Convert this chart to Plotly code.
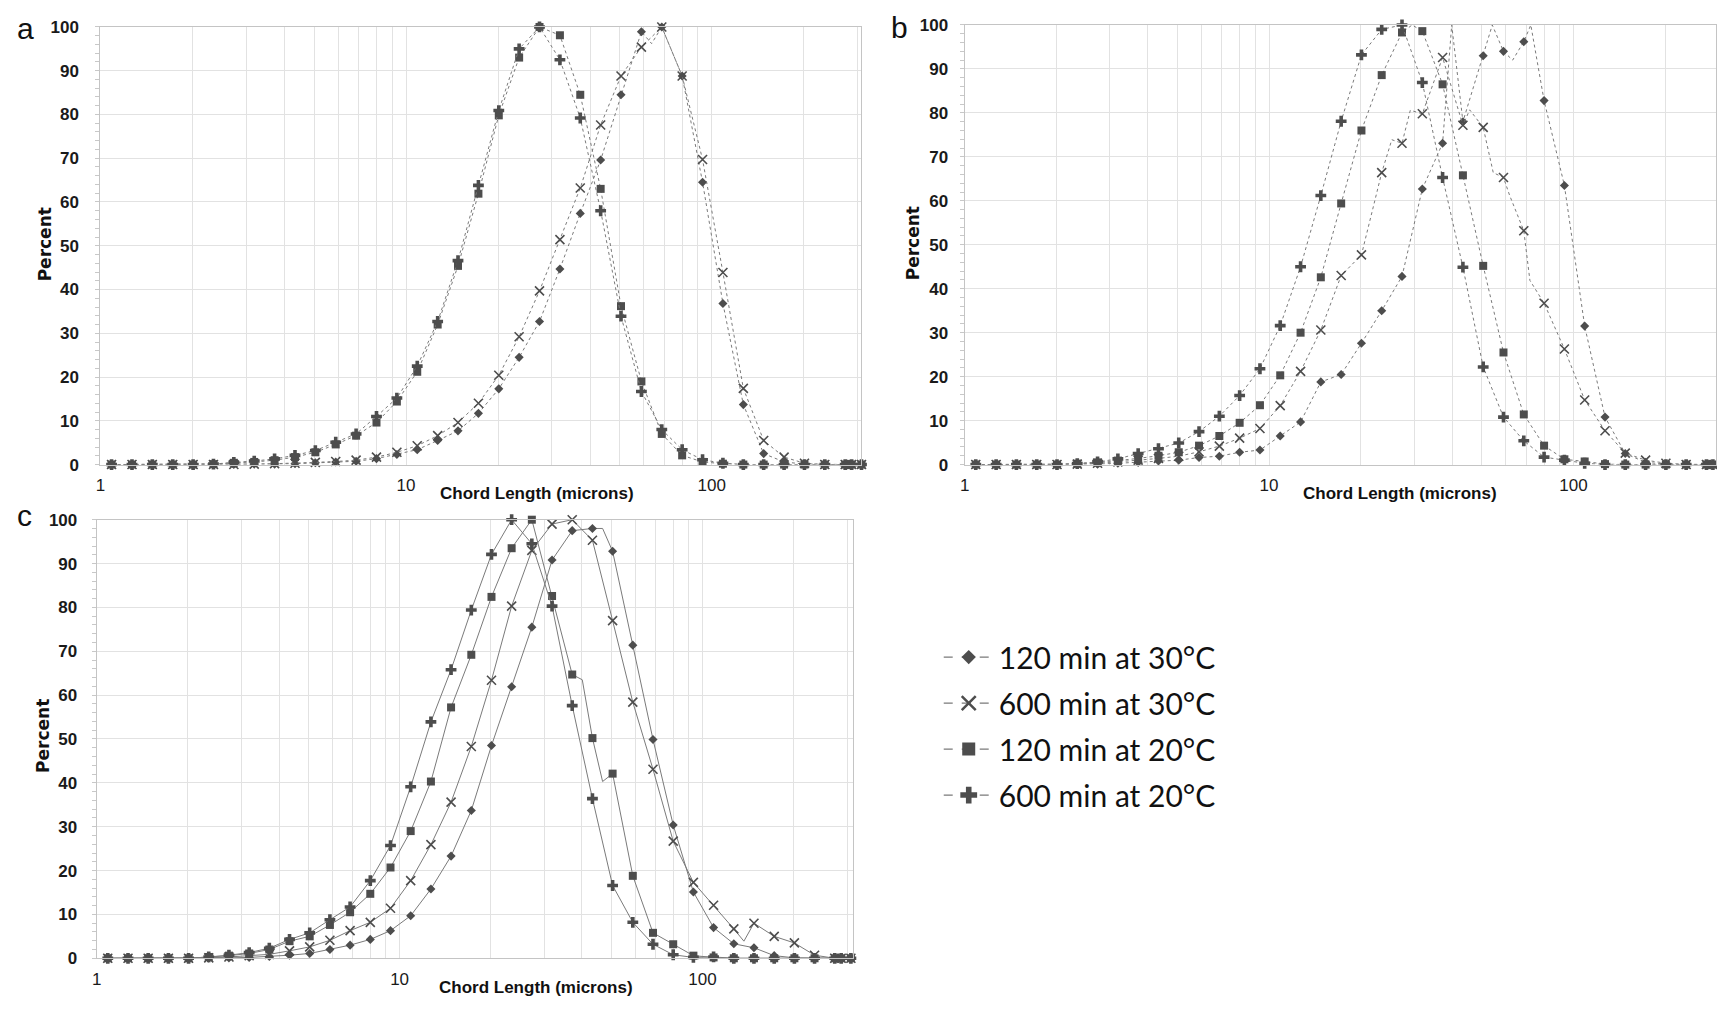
import plotly.graph_objects as go

# ---------------- data ----------------
chord_um = [1.088, 1.269, 1.479, 1.725, 2.011, 2.344, 2.733, 3.187, 3.715, 4.332,
            5.050, 5.888, 6.865, 8.004, 9.333, 10.88, 12.69, 14.79, 17.25, 20.11,
            23.44, 27.33, 31.87, 37.15, 43.32, 50.50, 58.88, 68.65, 80.04, 93.33,
            108.8, 126.9, 147.9, 172.5, 201.1, 234.4, 273.3, 287.0, 309.0]

series_names = ["120 min at 30°C", "600 min at 30°C", "120 min at 20°C", "600 min at 20°C"]

# panel a
a_120_30 = [0, 0, 0, 0, 0, 0, 0, 0.1, 0.1, 0.2, 0.4, 0.6, 0.75, 1.35, 2.3, 3.4, 5.5, 7.7, 11.7, 17.3,
            24.5, 32.7, 44.7, 57.4, 69.6, 84.5, 98.9, 100, 88.8, 64.5, 36.8, 13.7, 2.5, 0.6, 0.1, 0, 0, 0, 0]
a_600_30 = [0, 0, 0, 0, 0, 0, 0, 0.1, 0.2, 0.3, 0.5, 0.7, 1.0, 1.7, 2.8, 4.3, 6.6, 9.6, 14.0, 20.4,
            29.2, 39.7, 51.4, 63.2, 77.6, 88.8, 95.4, 100, 88.8, 69.7, 43.9, 17.4, 5.5, 1.7, 0.3, 0, 0, 0, 0]
a_120_20 = [0, 0, 0, 0, 0, 0.1, 0.4, 0.6, 1.0, 1.7, 2.8, 4.6, 6.6, 9.6, 14.4, 21.2, 32.0, 45.4, 61.9, 79.8,
            93.0, 100, 98.1, 84.5, 63.0, 36.2, 19.0, 7.0, 2.1, 0.6, 0.2, 0, 0, 0, 0, 0, 0, 0, 0]
a_600_20 = [0, 0, 0, 0, 0, 0.1, 0.5, 0.8, 1.3, 2.1, 3.2, 5.1, 7.0, 11.0, 15.2, 22.5, 32.7, 46.6, 63.8, 80.9,
            95.0, 100, 92.5, 79.2, 58.0, 33.9, 16.7, 8.0, 3.4, 1.1, 0.3, 0, 0, 0, 0, 0, 0, 0, 0]
a_120_30_extra_x = [63.6]
a_120_30_extra_y = [96.2]

# panel b
b_120_30 = [0, 0, 0, 0, 0, 0, 0.1, 0.3, 0.5, 0.8, 1.0, 1.6, 1.9, 2.8, 3.3, 6.5, 9.7, 18.8, 20.5, 27.6,
            35.0, 42.8, 62.7, 73.1, 78.0, 93.0, 94.0, 96.2, 82.8, 63.5, 31.5, 10.8, 2.5, 0.5, 0.1, 0, 0, 0, 0]
b_600_30 = [0, 0, 0, 0, 0, 0.1, 0.3, 0.6, 1.0, 1.4, 1.9, 2.9, 4.2, 6.0, 8.2, 13.4, 21.2, 30.6, 43.0, 47.7,
            66.4, 73.1, 79.8, 92.6, 77.2, 76.7, 65.3, 53.2, 36.7, 26.3, 14.7, 7.7, 2.6, 1.0, 0.3, 0, 0, 0, 0]
b_120_20 = [0, 0, 0, 0, 0, 0.2, 0.5, 0.9, 1.4, 2.0, 2.8, 4.3, 6.5, 9.5, 13.5, 20.3, 30.0, 42.6, 59.4, 76.0,
            88.6, 98.3, 98.6, 86.5, 65.8, 45.2, 25.5, 11.4, 4.3, 1.2, 0.7, 0.1, 0, 0, 0, 0, 0, 0, 0]
b_600_20 = [0, 0, 0, 0, 0, 0.2, 0.6, 1.3, 2.5, 3.6, 4.9, 7.5, 11.0, 15.7, 21.8, 31.6, 45.0, 61.2, 78.1, 93.2,
            99.0, 100, 86.9, 65.3, 44.9, 22.2, 10.8, 5.4, 1.7, 1.0, 0.3, 0, 0, 0, 0, 0, 0, 0, 0]
b_120_30_extra_x = [39.8, 54.1, 63.1, 72.4]
b_120_30_extra_y = [100, 100, 92.0, 100]
b_600_30_extra_x = [25.3, 29.1, 45.6, 54.5, 61.7, 71.9]
b_600_30_extra_y = [73.9, 80.6, 80.7, 66.4, 61.2, 41.9]
b_120_20_extra_x = [29.5]
b_120_20_extra_y = [100]

# panel c
c_120_30 = [0, 0, 0, 0, 0, 0, 0.1, 0.2, 0.4, 0.7, 1.1, 2.0, 3.0, 4.3, 6.3, 9.7, 15.8, 23.3, 33.7, 48.5,
            61.9, 75.5, 90.8, 97.5, 98.0, 92.8, 71.4, 49.9, 30.4, 15.1, 7.0, 3.3, 2.4, 0.6, 0.1, 0, 0, 0, 0]
c_600_30 = [0, 0, 0, 0, 0, 0.1, 0.3, 0.6, 0.9, 1.7, 2.6, 4.1, 6.3, 8.2, 11.4, 17.7, 25.9, 35.6, 48.3, 63.4,
            80.3, 93.0, 99.0, 100, 95.3, 77.0, 58.4, 43.1, 26.7, 17.3, 12.1, 6.7, 8.0, 5.0, 3.5, 0.7, 0, 0, 0]
c_120_20 = [0, 0, 0, 0, 0, 0.3, 0.6, 1.1, 2.0, 3.9, 5.0, 7.6, 10.5, 14.7, 20.7, 29.0, 40.3, 57.2, 69.2, 82.4,
            93.5, 100, 82.6, 64.7, 50.2, 42.1, 18.8, 5.8, 3.2, 0.6, 0.2, 0, 0, 0, 0, 0, 0, 0, 0]
c_600_20 = [0, 0, 0, 0, 0, 0.3, 0.7, 1.3, 2.3, 4.3, 5.8, 8.8, 11.7, 17.7, 25.7, 39.1, 53.9, 65.8, 79.4, 92.1,
            100, 94.5, 80.3, 57.6, 36.4, 16.6, 8.2, 3.2, 0.8, 0.2, 0.3, 0, 0, 0, 0, 0, 0, 0, 0]
c_120_30_extra_x = [46.8]
c_120_30_extra_y = [98.0]
c_600_30_extra_x = [137.0]
c_600_30_extra_y = [3.9]
c_120_20_extra_x = [40.1, 46.8]
c_120_20_extra_y = [63.5, 40.3]

x_tick_vals = [1, 10, 100]
x_tick_text = ["1", "10", "100"]
x_minor_vals = [2, 3, 4, 5, 6, 7, 8, 9, 20, 30, 40, 50, 60, 70, 80, 90, 200, 300]
y_tick_vals = [0, 10, 20, 30, 40, 50, 60, 70, 80, 90, 100]

# ---------------- styling ----------------
W, H = 1717, 1009
MARK = "#4d4d4d"
LINE = "#7a7a7a"
GRID = "#e2e2e2"
SANS = "Liberation Sans, Arial, sans-serif"
symbols = [
    dict(symbol="diamond", size=7, color=MARK),
    dict(symbol="x-thin", size=9, color=MARK, line=dict(width=1.6, color=MARK)),
    dict(symbol="square", size=8, color=MARK),
    dict(symbol="cross", size=9, color=MARK),
]
legend_symbols = [
    dict(symbol="diamond", size=11, color=MARK),
    dict(symbol="x-thin", size=14, color=MARK, line=dict(width=2.5, color=MARK)),
    dict(symbol="square", size=13, color=MARK),
    dict(symbol="cross", size=14, color=MARK),
]

def px_x(p):
    return p / W

def px_y(p):
    return 1 - p / H

panels = [
    dict(name="a", xa="x", ya="y", series=[a_120_30, a_600_30, a_120_20, a_600_20],
         extras=[(a_120_30_extra_x, a_120_30_extra_y), ([], []), ([], []), ([], [])],
         dash="dot", top=18.3, bottom=464.3,
         xdom=[px_x(95.7), px_x(859.5)], xr=[0, 2.49],
         ystand=17, label=(20.5, 19.5), ytitle=(41, 240), xtitle=(534, 494)),
    dict(name="b", xa="x2", ya="y2", series=[b_120_30, b_600_30, b_120_20, b_600_20],
         extras=[(b_120_30_extra_x, b_120_30_extra_y), (b_600_30_extra_x, b_600_30_extra_y),
                 (b_120_20_extra_x, b_120_20_extra_y), ([], [])],
         dash="dot", top=16.3, bottom=464.3,
         xdom=[px_x(963), 1.0], xr=[0, 2.468],
         ystand=12, label=(898, 19), ytitle=(912, 239), xtitle=(1400, 494)),
    dict(name="c", xa="x3", ya="y3", series=[c_120_30, c_600_30, c_120_20, c_600_20],
         extras=[(c_120_30_extra_x, c_120_30_extra_y), (c_600_30_extra_x, c_600_30_extra_y),
                 (c_120_20_extra_x, c_120_20_extra_y), ([], [])],
         dash="solid", top=520.5, bottom=967.5,
         xdom=[px_x(92), px_x(851)], xr=[0, 2.497],
         ystand=15, label=(20, 516), ytitle=(38, 741), xtitle=(533, 997)),
]

fig = go.Figure()
annotations = []
layout_axes = {}

for i, p in enumerate(panels):
    for s, ys in enumerate(p["series"]):
        ex, ey = p["extras"][s]
        pts = sorted(list(zip(chord_um, ys)) + list(zip(ex, ey)))
        fig.add_trace(go.Scatter(
            x=[q[0] for q in pts], y=[q[1] for q in pts], mode="lines",
            line=dict(color=LINE, width=1, dash=p["dash"]),
            xaxis=p["xa"], yaxis=p["ya"], showlegend=False, hoverinfo="skip",
            cliponaxis=False))
        fig.add_trace(go.Scatter(
            x=chord_um, y=ys, mode="markers", marker=symbols[s],
            xaxis=p["xa"], yaxis=p["ya"], showlegend=False, cliponaxis=False,
            name=series_names[s]))
    suffix = "" if i == 0 else str(i + 1)
    layout_axes["xaxis" + suffix] = dict(
        type="log", domain=p["xdom"], range=p["xr"], anchor=p["ya"],
        tickmode="array", tickvals=x_tick_vals, ticktext=x_tick_text,
        tickfont=dict(family=SANS, size=17, color="#1a1a1a"),
        ticks="", ticklabelstandoff=5,
        showgrid=True, gridcolor=GRID, gridwidth=1,
        minor=dict(tickmode="array", tickvals=x_minor_vals, showgrid=True,
                   gridcolor=GRID, gridwidth=1, ticks=""),
        showline=True, linecolor="#c4c4c4", linewidth=1, mirror=True, zeroline=False)
    layout_axes["yaxis" + suffix] = dict(
        domain=[px_y(p["bottom"]), px_y(p["top"])], range=[0, 100], anchor=p["xa"],
        tickmode="array", tickvals=y_tick_vals,
        tickfont=dict(family=SANS, size=17, color="#1a1a1a", weight="bold"),
        ticks="", ticklabelstandoff=p["ystand"],
        showgrid=True, gridcolor=GRID, gridwidth=1,
        minor=dict(dtick=2, ticks="outside", ticklen=4, tickcolor="#c8c8c8", showgrid=False),
        showline=True, linecolor="#c4c4c4", linewidth=1, mirror=True, zeroline=False)
    annotations.append(dict(
        text=p["name"], x=px_x(p["label"][0]), y=px_y(p["label"][1]), xref="paper", yref="paper",
        xanchor="center", yanchor="middle", showarrow=False,
        font=dict(family=SANS, size=30, color="#111")))
    annotations.append(dict(
        text="Percent", x=px_x(p["ytitle"][0]), y=px_y(p["ytitle"][1]), xref="paper", yref="paper",
        xanchor="center", yanchor="middle", showarrow=False, textangle=-90,
        font=dict(family="DejaVu Sans, sans-serif", size=17, color="#111", weight="bold")))
    # x-axis title placed relative to the panel's own y domain
    span = p["bottom"] - p["top"]
    annotations.append(dict(
        text="Chord Length (microns)", x=px_x(p["xtitle"][0]),
        y=-(p["xtitle"][1] - p["bottom"]) / span,
        xref="paper", yref=p["ya"] + " domain", xanchor="center", yanchor="middle",
        showarrow=False,
        font=dict(family=SANS, size=17, color="#111", weight="bold")))

# legend-only traces
for s in range(4):
    fig.add_trace(go.Scatter(
        x=[None], y=[None], mode="lines+markers", name=series_names[s],
        marker=legend_symbols[s], line=dict(color=LINE, width=1.2, dash="dash"),
        xaxis="x", yaxis="y", showlegend=True, legendgroup="g%d" % s))

fig.update_layout(
    width=W, height=H, margin=dict(l=0, r=0, t=0, b=0),
    paper_bgcolor="white", plot_bgcolor="white",
    annotations=annotations,
    showlegend=True,
    legend=dict(x=px_x(937), y=px_y(634), xanchor="left", yanchor="top",
                font=dict(family="Lato, Carlito, sans-serif", size=30, color="#111"),
                bgcolor="rgba(0,0,0,0)", tracegroupgap=4, itemwidth=50),
    **layout_axes)

fig.write_html("out.html")
